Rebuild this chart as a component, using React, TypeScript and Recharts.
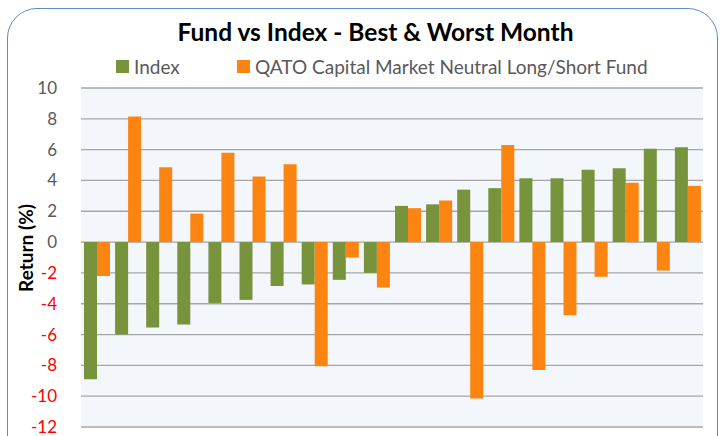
import { BarChart, Bar, XAxis, YAxis, CartesianGrid, Legend } from 'recharts'

const months = [
  'M1', 'M2', 'M3', 'M4', 'M5', 'M6', 'M7', 'M8', 'M9', 'M10',
  'M11', 'M12', 'M13', 'M14', 'M15', 'M16', 'M17', 'M18', 'M19', 'M20',
]
const indexReturns = [
  -8.9, -6.0, -5.55, -5.35, -3.95, -3.75, -2.85, -2.75, -2.45, -2.0,
  2.35, 2.45, 3.4, 3.5, 4.15, 4.15, 4.7, 4.8, 6.05, 6.15,
]
const fundReturns = [
  -2.2, 8.15, 4.85, 1.85, 5.8, 4.25, 5.05, -8.05, -1.0, -2.95,
  2.2, 2.7, -10.15, 6.3, -8.3, -4.75, -2.25, 3.85, -1.85, 3.65,
]
const yTicks = [-12, -10, -8, -6, -4, -2, 0, 2, 4, 6, 8, 10]

const INDEX_NAME = 'Index'
const FUND_NAME = 'QATO Capital Market Neutral Long/Short Fund'
const GREEN = '#77933C'
const ORANGE = '#FC8410'
const FONT = 'Lato, "Open Sans", sans-serif'

const data = months.map((m, i) => ({
  month: m,
  index: indexReturns[i],
  fund: fundReturns[i],
}))

function YTick({ x, y, payload }: any) {
  const v = payload.value
  return (
    <text
      x={x - 16}
      y={y}
      dy={6}
      textAnchor="end"
      fontSize={17}
      fontFamily={FONT}
      fill={v < 0 ? '#FF0000' : '#595959'}
    >
      {v}
    </text>
  )
}

function YLabel() {
  return (
    <text
      transform="translate(33, 248) rotate(-90)"
      textAnchor="middle"
      fontFamily={FONT}
      fontWeight={700}
      fontSize={19}
      fill="#000000"
    >
      Return (%)
    </text>
  )
}

function LegendContent() {
  const items = [
    { name: INDEX_NAME, color: GREEN, width: 121 },
    { name: FUND_NAME, color: ORANGE, width: 440 },
  ]
  return (
    <div style={{ display: 'flex', fontFamily: FONT, fontSize: 19, color: '#595959' }}>
      {items.map((it) => (
        <div key={it.name} style={{ display: 'flex', alignItems: 'center', width: it.width }}>
          <span style={{ width: 13, height: 13, background: it.color, marginRight: 5 }} />
          <span>{it.name}</span>
        </div>
      ))}
    </div>
  )
}

export default function App() {
  return (
    <div
      style={{
        position: 'absolute',
        left: 0,
        top: 0,
        width: 725,
        height: 436,
        overflow: 'hidden',
        background: '#FFFFFF',
      }}
    >
      <div
        style={{
          position: 'absolute',
          left: 7,
          top: 8,
          width: 709,
          height: 470,
          border: '1.5px solid #5B8BC9',
          borderRadius: 30,
        }}
      />
      <div
        style={{
          position: 'absolute',
          left: 0,
          top: 17,
          width: 751,
          textAlign: 'center',
          fontFamily: FONT,
          fontWeight: 700,
          fontSize: 24.5,
          color: '#000000',
        }}
      >
        Fund vs Index - Best &amp; Worst Month
      </div>
      <BarChart
        width={725}
        height={436}
        data={data}
        margin={{ top: 88, right: 22, bottom: 9, left: 21 }}
        barGap={0}
        style={{ position: 'absolute', left: 0, top: 0 }}
      >
        <CartesianGrid vertical={false} stroke="#A6A6A6" strokeWidth={1.3} fill="#F3F6FB" />
        <XAxis dataKey="month" hide />
        <YAxis
          width={60}
          domain={[-12, 10]}
          ticks={yTicks}
          interval={0}
          axisLine={false}
          tickLine={false}
          tick={<YTick />}
          label={<YLabel />}
        />
        <Legend
          verticalAlign="middle"
          layout="horizontal"
          content={<LegendContent />}
          wrapperStyle={{ top: 55, left: 116, width: 580 }}
        />
        <Bar dataKey="index" name={INDEX_NAME} fill={GREEN} barSize={13} isAnimationActive={false} />
        <Bar dataKey="fund" name={FUND_NAME} fill={ORANGE} barSize={13} isAnimationActive={false} />
      </BarChart>
    </div>
  )
}
